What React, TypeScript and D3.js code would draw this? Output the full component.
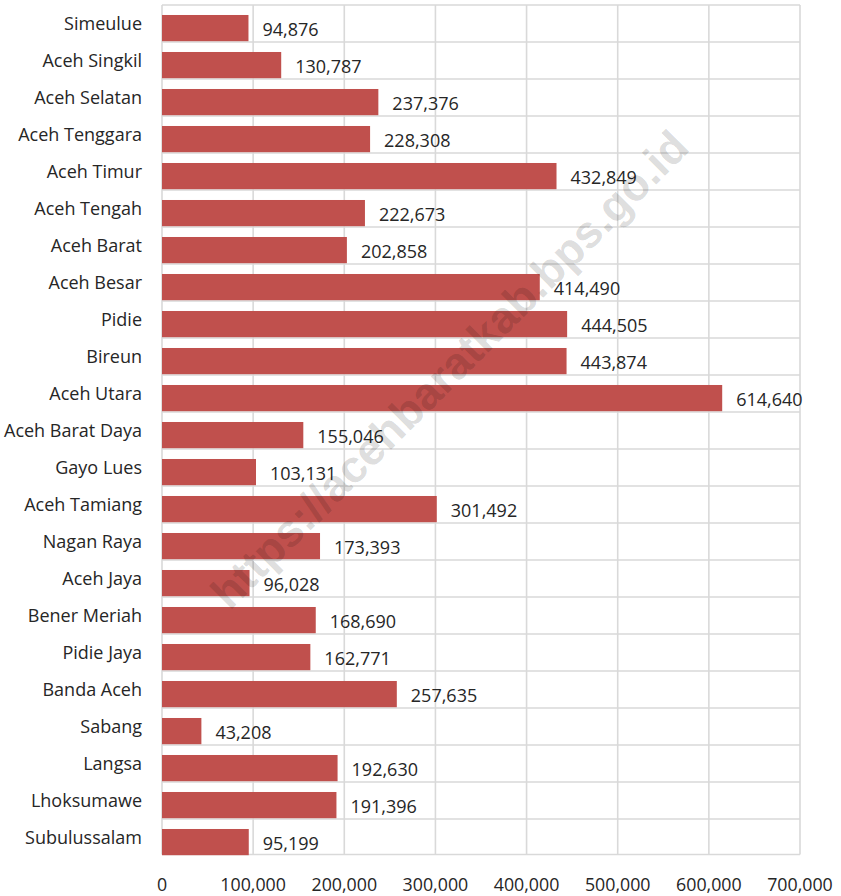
import React from "react";
import * as d3 from "d3";

const categories = [
  "Simeulue", "Aceh Singkil", "Aceh Selatan", "Aceh Tenggara", "Aceh Timur",
  "Aceh Tengah", "Aceh Barat", "Aceh Besar", "Pidie", "Bireun", "Aceh Utara",
  "Aceh Barat Daya", "Gayo Lues", "Aceh Tamiang", "Nagan Raya", "Aceh Jaya",
  "Bener Meriah", "Pidie Jaya", "Banda Aceh", "Sabang", "Langsa", "Lhoksumawe",
  "Subulussalam",
];
const values = [
  94876, 130787, 237376, 228308, 432849, 222673, 202858, 414490, 444505, 443874,
  614640, 155046, 103131, 301492, 173393, 96028, 168690, 162771, 257635, 43208,
  192630, 191396, 95199,
];
const xTicks = [0, 100000, 200000, 300000, 400000, 500000, 600000, 700000];
const watermark = "https://acehbaratkab.bps.go.id";

const W = 841;
const H = 896;
const left = 162;
const right = 800;
const top = 5;
const bottom = 856;

export default function App() {
  const x = d3.scaleLinear().domain([0, 700000]).range([left, right]);
  const y = d3.scaleBand<string>().domain(categories).range([top, bottom]).padding(0);
  const bw = y.bandwidth();
  const fmt = d3.format(",");
  const font = "'Open Sans', 'Noto Sans', sans-serif";
  const txt = "#262626";
  const grid = "#d9d9d9";
  const barTopGap = bw * 0.27;

  return (
    <svg
      width={W}
      height={H}
      style={{ position: "absolute", left: 0, top: 0, background: "#fff" }}
      fontFamily={font}
    >
      <rect x={0} y={0} width={W} height={H} fill="#fff" />
      {xTicks.map((t) => (
        <line key={"v" + t} x1={x(t)} x2={x(t)} y1={top} y2={bottom - 1.5} stroke={grid} strokeWidth={1.6} />
      ))}
      {categories.map((c) => (
        <line key={"h" + c} x1={left} x2={right} y1={y(c)!} y2={y(c)!} stroke={grid} strokeWidth={1.6} />
      ))}
      <line x1={left} x2={right} y1={bottom - 1.5} y2={bottom - 1.5} stroke={grid} strokeWidth={1.6} />
      {categories.map((c, i) => (
        <rect
          key={"b" + c}
          x={x(0)}
          y={y(c)! + barTopGap}
          width={x(values[i]) - x(0)}
          height={bw - barTopGap - 0.8}
          fill="#C0504D"
        />
      ))}
      {categories.map((c) => (
        <text key={"c" + c} x={142} y={y(c)! + 25} textAnchor="end" fontSize={18} fill={txt}>
          {c}
        </text>
      ))}
      {categories.map((c, i) => (
        <text key={"l" + c} x={x(values[i]) + 14} y={y(c)! + 31} textAnchor="start" fontSize={18} fill={txt}>
          {fmt(values[i])}
        </text>
      ))}
      {xTicks.map((t) => (
        <text key={"t" + t} x={x(t)} y={891} textAnchor="middle" fontSize={17.8} fill={txt}>
          {fmt(t)}
        </text>
      ))}
      <text
        x={0}
        y={0}
        transform="translate(452,372) rotate(-45)"
        textAnchor="middle"
        dominantBaseline="middle"
        fontFamily="'Liberation Sans', Arial, sans-serif"
        fontWeight="bold"
        fontSize={45}
        fill="#000"
        fillOpacity={0.15}
      >
        {watermark}
      </text>
    </svg>
  );
}
